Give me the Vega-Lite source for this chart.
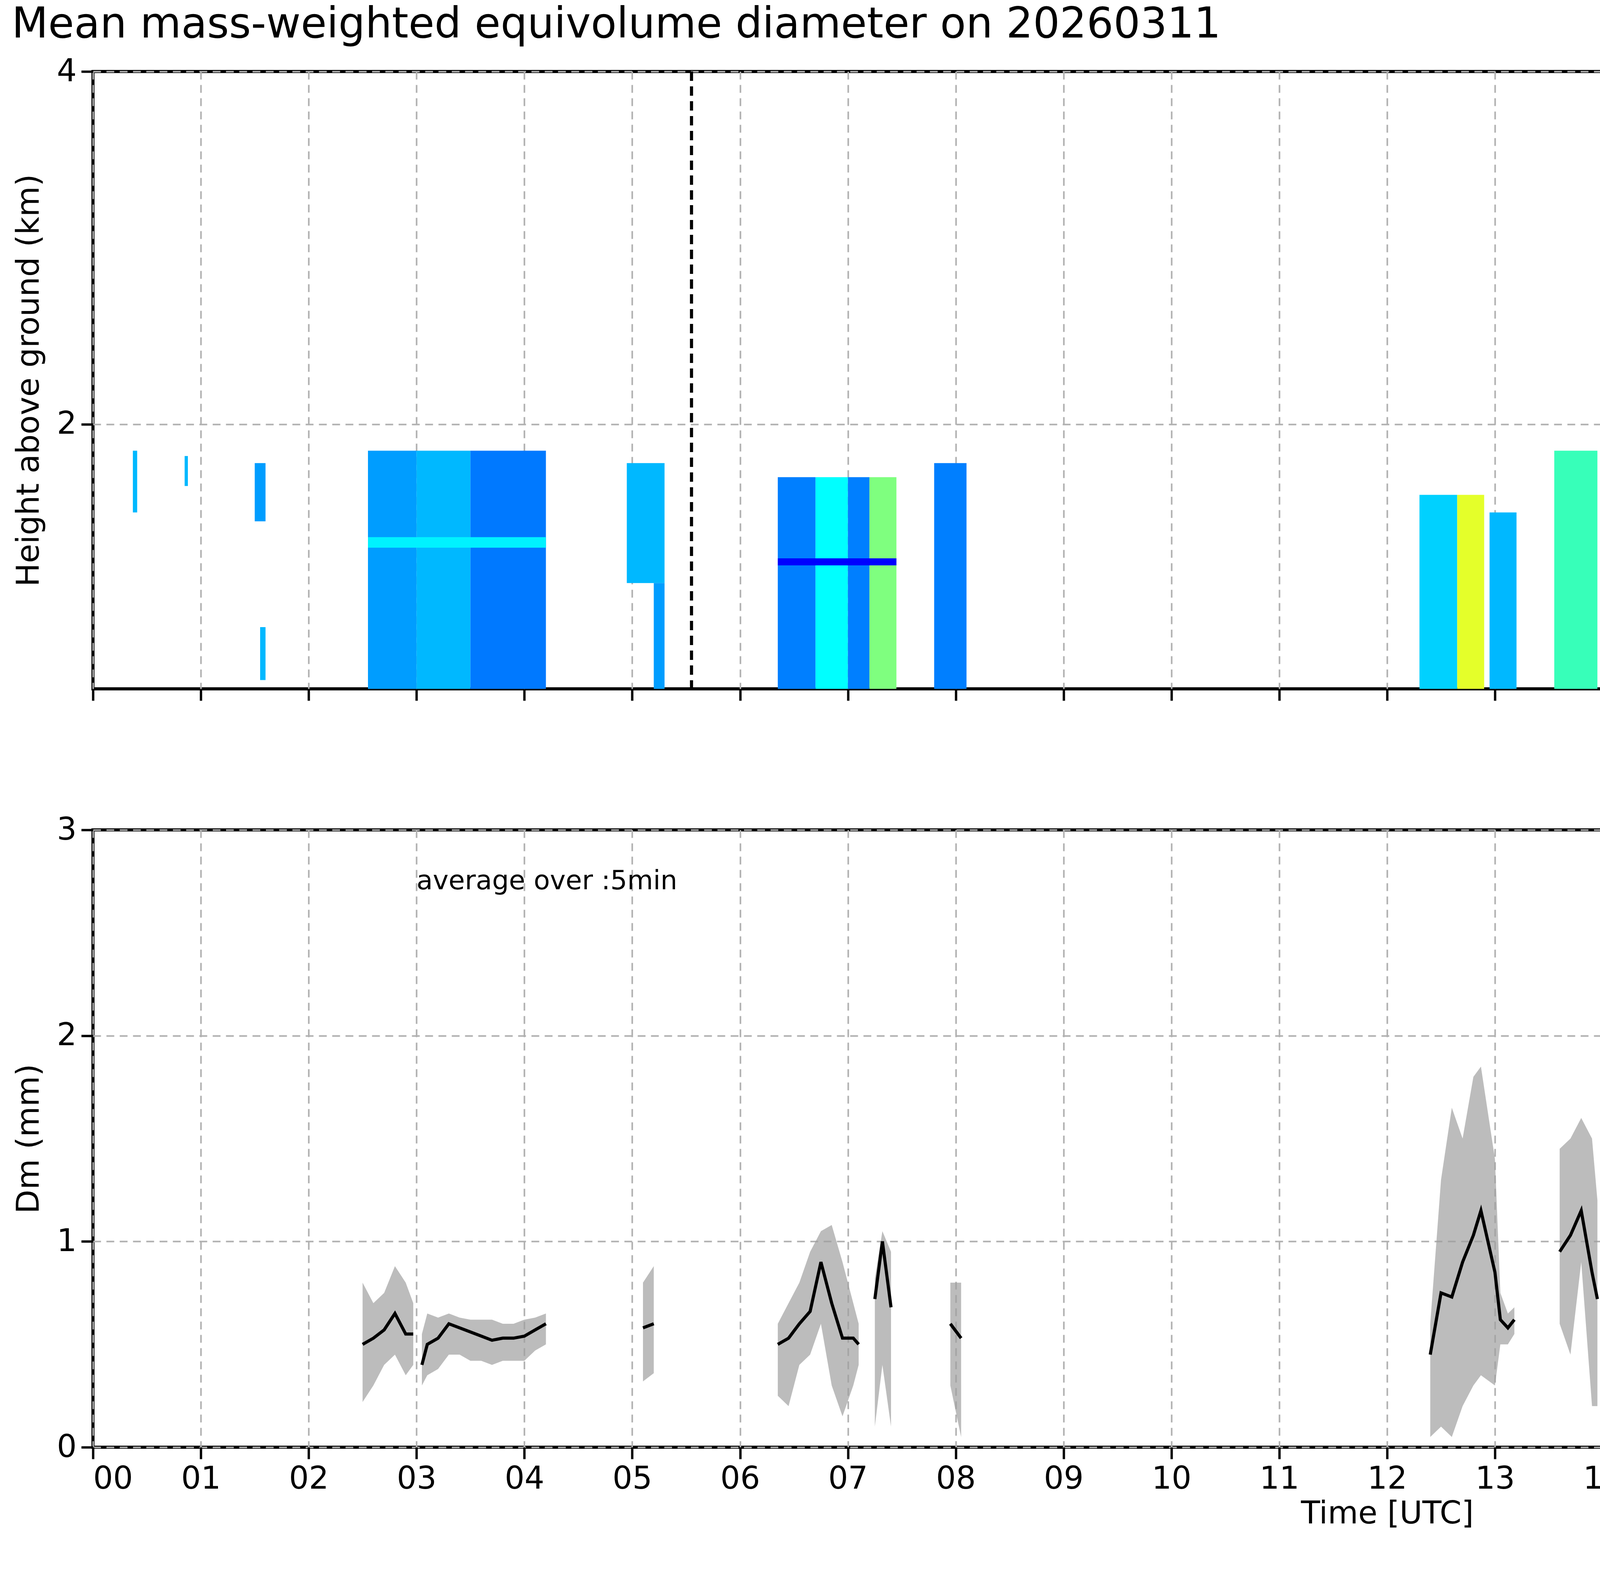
{
  "$schema": "https://vega.github.io/schema/vega-lite/v6.json",
  "background": "white",
  "padding": {"left": 30, "top": 10, "right": 30, "bottom": 10},
  "title": {"text": "Mean mass-weighted equivolume diameter on 20260311", "fontSize": 108, "font": "DejaVu Sans", "fontWeight": "normal", "offset": 20},
  "config": {
    "font": "DejaVu Sans",
    "view": {"stroke": "black", "strokeWidth": 8},
    "axis": {
      "domain": false, "tickColor": "black", "tickWidth": 6, "tickSize": 30,
      "labelFontSize": 80, "titleFontSize": 80, "titleFontWeight": "normal", "labelColor": "black", "titleColor": "black",
      "gridColor": "#b0b0b0", "gridDash": [20, 14], "gridWidth": 4, "labelPadding": 12
    }
  },
  "spacing": 280,
  "vconcat": [
    {
      "width": 6626, "height": 1580,
      "layer": [
        {
          "data": {"values": [
            {"t0": 0.37, "t1": 0.41, "h0": 1.5, "h1": 1.85, "dm": 0.6},
            {"t0": 0.85, "t1": 0.88, "h0": 1.65, "h1": 1.82, "dm": 0.6},
            {"t0": 1.5, "t1": 1.6, "h0": 1.45, "h1": 1.78, "dm": 0.55},
            {"t0": 1.55, "t1": 1.6, "h0": 0.55, "h1": 0.85, "dm": 0.6},
            {"t0": 2.55, "t1": 3.0, "h0": 0.5, "h1": 1.85, "dm": 0.55},
            {"t0": 3.0, "t1": 3.5, "h0": 0.5, "h1": 1.85, "dm": 0.6},
            {"t0": 3.5, "t1": 4.2, "h0": 0.5, "h1": 1.85, "dm": 0.48},
            {"t0": 2.55, "t1": 4.2, "h0": 1.3, "h1": 1.36, "dm": 0.72},
            {"t0": 4.95, "t1": 5.3, "h0": 1.1, "h1": 1.78, "dm": 0.6},
            {"t0": 5.2, "t1": 5.3, "h0": 0.5, "h1": 1.1, "dm": 0.55},
            {"t0": 6.35, "t1": 6.7, "h0": 0.5, "h1": 1.7, "dm": 0.5},
            {"t0": 6.7, "t1": 7.0, "h0": 0.5, "h1": 1.7, "dm": 0.75},
            {"t0": 7.0, "t1": 7.2, "h0": 0.5, "h1": 1.7, "dm": 0.5},
            {"t0": 7.2, "t1": 7.45, "h0": 0.5, "h1": 1.7, "dm": 1.0},
            {"t0": 6.35, "t1": 7.45, "h0": 1.2, "h1": 1.24, "dm": 0.25},
            {"t0": 7.8, "t1": 8.1, "h0": 0.5, "h1": 1.78, "dm": 0.5},
            {"t0": 12.3, "t1": 12.65, "h0": 0.5, "h1": 1.6, "dm": 0.65},
            {"t0": 12.65, "t1": 12.9, "h0": 0.5, "h1": 1.6, "dm": 1.2},
            {"t0": 12.95, "t1": 13.2, "h0": 0.5, "h1": 1.5, "dm": 0.6},
            {"t0": 13.55, "t1": 13.95, "h0": 0.5, "h1": 1.85, "dm": 0.9},
            {"t0": 17.3, "t1": 17.55, "h0": 0.5, "h1": 1.85, "dm": 0.5},
            {"t0": 19.15, "t1": 19.7, "h0": 0.5, "h1": 1.75, "dm": 0.7},
            {"t0": 19.7, "t1": 20.3, "h0": 0.5, "h1": 1.2, "dm": 1.6},
            {"t0": 19.7, "t1": 20.3, "h0": 1.2, "h1": 1.6, "dm": 0.75},
            {"t0": 20.3, "t1": 21.0, "h0": 0.5, "h1": 1.2, "dm": 1.3},
            {"t0": 21.0, "t1": 22.0, "h0": 0.5, "h1": 1.2, "dm": 1.0},
            {"t0": 22.0, "t1": 23.95, "h0": 0.5, "h1": 1.2, "dm": 0.75},
            {"t0": 20.3, "t1": 23.95, "h0": 1.2, "h1": 1.55, "dm": 0.7},
            {"t0": 19.9, "t1": 23.95, "h0": 1.22, "h1": 1.26, "dm": 0.2}
          ]},
          "mark": {"type": "rect"},
          "encoding": {
            "x": {"field": "t0", "type": "quantitative", "scale": {"domain": [0, 24], "nice": false, "zero": false},
                  "axis": {"values": [0,1,2,3,4,5,6,7,8,9,10,11,12,13,14,15,16,17,18,19,20,21,22,23], "labels": false, "title": null}},
            "x2": {"field": "t1"},
            "y": {"field": "h0", "type": "quantitative", "scale": {"domain": [0.5, 4], "nice": false, "zero": false},
                  "axis": {"values": [2, 4], "title": "Height above ground (km)", "titlePadding": 30}},
            "y2": {"field": "h1"},
            "color": {"field": "dm", "type": "quantitative",
              "scale": {"domain": [0, 2], "range": ["#00007f", "#0000ff", "#007fff", "#00ffff", "#7fff7f", "#ffff00", "#ff7f00", "#ff0000", "#7f0000"]},
              "legend": {"title": "Dm (mm)", "titleOrient": "right", "titleFontSize": 64, "titleFontWeight": "normal", "labelFontSize": 64,
                "gradientLength": 1580, "gradientThickness": 110, "values": [0, 0.4, 0.8, 1.2, 1.6, 2.0], "format": ".1f",
                "gradientStrokeColor": "black", "gradientStrokeWidth": 4, "offset": 60, "padding": 0}}
          }
        },
        {
          "data": {"values": [{"t": 5.55}, {"t": 17.22}]},
          "mark": {"type": "rule", "color": "black", "strokeWidth": 8, "strokeDash": [24, 14]},
          "encoding": {"x": {"field": "t", "type": "quantitative"}}
        }
      ]
    },
    {
      "width": 6626, "height": 1580,
      "data": {"values": [
        {"t": 2.5, "dm": 0.5, "lo": 0.22, "hi": 0.8, "seg": "A"},
        {"t": 2.6, "dm": 0.53, "lo": 0.3, "hi": 0.7, "seg": "A"},
        {"t": 2.7, "dm": 0.57, "lo": 0.4, "hi": 0.75, "seg": "A"},
        {"t": 2.8, "dm": 0.65, "lo": 0.45, "hi": 0.88, "seg": "A"},
        {"t": 2.9, "dm": 0.55, "lo": 0.35, "hi": 0.8, "seg": "A"},
        {"t": 2.97, "dm": 0.55, "lo": 0.4, "hi": 0.7, "seg": "A"},
        {"t": 3.05, "dm": 0.4, "lo": 0.3, "hi": 0.55, "seg": "B"},
        {"t": 3.1, "dm": 0.5, "lo": 0.35, "hi": 0.65, "seg": "B"},
        {"t": 3.2, "dm": 0.53, "lo": 0.38, "hi": 0.63, "seg": "B"},
        {"t": 3.3, "dm": 0.6, "lo": 0.45, "hi": 0.65, "seg": "B"},
        {"t": 3.4, "dm": 0.58, "lo": 0.45, "hi": 0.63, "seg": "B"},
        {"t": 3.5, "dm": 0.56, "lo": 0.42, "hi": 0.62, "seg": "B"},
        {"t": 3.6, "dm": 0.54, "lo": 0.42, "hi": 0.62, "seg": "B"},
        {"t": 3.7, "dm": 0.52, "lo": 0.4, "hi": 0.62, "seg": "B"},
        {"t": 3.8, "dm": 0.53, "lo": 0.42, "hi": 0.6, "seg": "B"},
        {"t": 3.9, "dm": 0.53, "lo": 0.42, "hi": 0.6, "seg": "B"},
        {"t": 4.0, "dm": 0.54, "lo": 0.42, "hi": 0.62, "seg": "B"},
        {"t": 4.1, "dm": 0.57, "lo": 0.47, "hi": 0.63, "seg": "B"},
        {"t": 4.2, "dm": 0.6, "lo": 0.5, "hi": 0.65, "seg": "B"},
        {"t": 5.1, "dm": 0.58, "lo": 0.32, "hi": 0.8, "seg": "C"},
        {"t": 5.2, "dm": 0.6, "lo": 0.36, "hi": 0.88, "seg": "C"},
        {"t": 6.35, "dm": 0.5, "lo": 0.25, "hi": 0.6, "seg": "D"},
        {"t": 6.45, "dm": 0.53, "lo": 0.2, "hi": 0.7, "seg": "D"},
        {"t": 6.55, "dm": 0.6, "lo": 0.4, "hi": 0.8, "seg": "D"},
        {"t": 6.65, "dm": 0.66, "lo": 0.45, "hi": 0.95, "seg": "D"},
        {"t": 6.75, "dm": 0.9, "lo": 0.6, "hi": 1.05, "seg": "D"},
        {"t": 6.85, "dm": 0.7, "lo": 0.3, "hi": 1.08, "seg": "D"},
        {"t": 6.95, "dm": 0.53, "lo": 0.15, "hi": 0.9, "seg": "D"},
        {"t": 7.05, "dm": 0.53, "lo": 0.3, "hi": 0.7, "seg": "D"},
        {"t": 7.1, "dm": 0.5, "lo": 0.4, "hi": 0.6, "seg": "D"},
        {"t": 7.25, "dm": 0.72, "lo": 0.1, "hi": 0.82, "seg": "E"},
        {"t": 7.32, "dm": 1.0, "lo": 0.4, "hi": 1.05, "seg": "E"},
        {"t": 7.4, "dm": 0.68, "lo": 0.1, "hi": 0.95, "seg": "E"},
        {"t": 7.95, "dm": 0.6, "lo": 0.3, "hi": 0.8, "seg": "F"},
        {"t": 8.05, "dm": 0.53, "lo": 0.05, "hi": 0.8, "seg": "F"},
        {"t": 12.4, "dm": 0.45, "lo": 0.05, "hi": 0.6, "seg": "G"},
        {"t": 12.5, "dm": 0.75, "lo": 0.1, "hi": 1.3, "seg": "G"},
        {"t": 12.6, "dm": 0.73, "lo": 0.05, "hi": 1.65, "seg": "G"},
        {"t": 12.7, "dm": 0.9, "lo": 0.2, "hi": 1.5, "seg": "G"},
        {"t": 12.8, "dm": 1.03, "lo": 0.3, "hi": 1.8, "seg": "G"},
        {"t": 12.87, "dm": 1.15, "lo": 0.35, "hi": 1.85, "seg": "G"},
        {"t": 13.0, "dm": 0.85, "lo": 0.3, "hi": 1.4, "seg": "G"},
        {"t": 13.05, "dm": 0.62, "lo": 0.5, "hi": 0.75, "seg": "G"},
        {"t": 13.12, "dm": 0.58, "lo": 0.5, "hi": 0.65, "seg": "G"},
        {"t": 13.18, "dm": 0.62, "lo": 0.55, "hi": 0.68, "seg": "G"},
        {"t": 13.6, "dm": 0.95, "lo": 0.6, "hi": 1.45, "seg": "H"},
        {"t": 13.7, "dm": 1.03, "lo": 0.45, "hi": 1.5, "seg": "H"},
        {"t": 13.8, "dm": 1.15, "lo": 0.9, "hi": 1.6, "seg": "H"},
        {"t": 13.9, "dm": 0.85, "lo": 0.2, "hi": 1.5, "seg": "H"},
        {"t": 13.95, "dm": 0.72, "lo": 0.2, "hi": 1.2, "seg": "H"},
        {"t": 17.42, "dm": 0.62, "lo": 0.23, "hi": 1.1, "seg": "I"},
        {"t": 17.52, "dm": 0.53, "lo": 0.3, "hi": 1.05, "seg": "I"},
        {"t": 19.1, "dm": 0.72, "lo": 0.3, "hi": 0.95, "seg": "J"},
        {"t": 19.2, "dm": 0.68, "lo": 0.4, "hi": 1.15, "seg": "J"},
        {"t": 19.35, "dm": 0.72, "lo": 0.4, "hi": 1.3, "seg": "J"},
        {"t": 19.45, "dm": 0.58, "lo": 0.2, "hi": 0.95, "seg": "J"},
        {"t": 19.55, "dm": 0.52, "lo": 0.2, "hi": 0.85, "seg": "J"},
        {"t": 19.65, "dm": 0.62, "lo": 0.2, "hi": 1.1, "seg": "J"},
        {"t": 19.75, "dm": 0.6, "lo": 0.3, "hi": 1.2, "seg": "J"},
        {"t": 19.8, "dm": 1.05, "lo": 0.6, "hi": 1.4, "seg": "J"},
        {"t": 19.9, "dm": 1.2, "lo": 0.8, "hi": 1.8, "seg": "J"},
        {"t": 20.0, "dm": 1.58, "lo": 1.0, "hi": 1.95, "seg": "J"},
        {"t": 20.1, "dm": 1.3, "lo": 0.9, "hi": 1.75, "seg": "J"},
        {"t": 20.2, "dm": 1.35, "lo": 1.0, "hi": 1.65, "seg": "J"},
        {"t": 20.3, "dm": 1.47, "lo": 0.9, "hi": 1.8, "seg": "J"},
        {"t": 20.4, "dm": 1.58, "lo": 1.0, "hi": 1.85, "seg": "J"},
        {"t": 20.5, "dm": 1.55, "lo": 1.3, "hi": 1.8, "seg": "J"},
        {"t": 20.6, "dm": 1.7, "lo": 1.4, "hi": 1.85, "seg": "J"},
        {"t": 20.7, "dm": 1.5, "lo": 1.1, "hi": 1.9, "seg": "J"},
        {"t": 20.8, "dm": 1.42, "lo": 0.85, "hi": 1.9, "seg": "J"},
        {"t": 20.9, "dm": 1.12, "lo": 0.7, "hi": 1.5, "seg": "J"},
        {"t": 21.0, "dm": 1.15, "lo": 0.9, "hi": 1.6, "seg": "J"},
        {"t": 21.05, "dm": 1.3, "lo": 0.8, "hi": 1.6, "seg": "J"},
        {"t": 21.15, "dm": 1.1, "lo": 0.4, "hi": 1.5, "seg": "J"},
        {"t": 21.25, "dm": 0.95, "lo": 0.1, "hi": 1.3, "seg": "J"},
        {"t": 21.35, "dm": 1.1, "lo": 0.7, "hi": 1.4, "seg": "J"},
        {"t": 21.4, "dm": 1.33, "lo": 0.9, "hi": 1.55, "seg": "J"},
        {"t": 21.5, "dm": 0.95, "lo": 0.6, "hi": 1.25, "seg": "J"},
        {"t": 21.6, "dm": 0.7, "lo": 0.3, "hi": 1.1, "seg": "J"},
        {"t": 21.7, "dm": 0.7, "lo": 0.4, "hi": 1.05, "seg": "J"},
        {"t": 21.8, "dm": 1.0, "lo": 0.6, "hi": 1.2, "seg": "J"},
        {"t": 21.9, "dm": 0.95, "lo": 0.6, "hi": 1.1, "seg": "J"},
        {"t": 22.0, "dm": 0.85, "lo": 0.6, "hi": 1.1, "seg": "J"},
        {"t": 22.1, "dm": 1.13, "lo": 0.8, "hi": 1.35, "seg": "J"},
        {"t": 22.2, "dm": 1.05, "lo": 0.8, "hi": 1.2, "seg": "J"},
        {"t": 22.3, "dm": 0.7, "lo": 0.55, "hi": 0.9, "seg": "J"},
        {"t": 22.4, "dm": 0.65, "lo": 0.55, "hi": 0.75, "seg": "J"},
        {"t": 22.5, "dm": 0.55, "lo": 0.5, "hi": 0.7, "seg": "J"},
        {"t": 22.6, "dm": 0.6, "lo": 0.5, "hi": 0.7, "seg": "J"},
        {"t": 22.7, "dm": 0.67, "lo": 0.55, "hi": 0.8, "seg": "J"},
        {"t": 22.8, "dm": 0.65, "lo": 0.55, "hi": 0.75, "seg": "J"},
        {"t": 22.9, "dm": 0.72, "lo": 0.6, "hi": 0.85, "seg": "J"},
        {"t": 23.0, "dm": 0.72, "lo": 0.65, "hi": 0.85, "seg": "J"},
        {"t": 23.1, "dm": 0.85, "lo": 0.7, "hi": 0.95, "seg": "J"},
        {"t": 23.2, "dm": 0.9, "lo": 0.7, "hi": 0.95, "seg": "J"},
        {"t": 23.3, "dm": 0.65, "lo": 0.4, "hi": 0.8, "seg": "J"},
        {"t": 23.4, "dm": 0.6, "lo": 0.4, "hi": 0.75, "seg": "J"},
        {"t": 23.5, "dm": 0.58, "lo": 0.25, "hi": 0.8, "seg": "J"},
        {"t": 23.6, "dm": 0.65, "lo": 0.3, "hi": 0.8, "seg": "J"},
        {"t": 23.7, "dm": 0.62, "lo": 0.25, "hi": 0.85, "seg": "J"},
        {"t": 23.8, "dm": 0.62, "lo": 0.3, "hi": 0.9, "seg": "J"},
        {"t": 23.9, "dm": 0.65, "lo": 0.05, "hi": 1.26, "seg": "J"},
        {"t": 23.95, "dm": 0.87, "lo": 0.1, "hi": 1.27, "seg": "J"}
      ]},
      "layer": [
        {
          "mark": {"type": "area", "color": "#a0a0a0", "opacity": 0.7},
          "encoding": {
            "x": {"field": "t", "type": "quantitative", "scale": {"domain": [0, 24], "nice": false, "zero": false},
                  "axis": {"values": [0,1,2,3,4,5,6,7,8,9,10,11,12,13,14,15,16,17,18,19,20,21,22,23], "title": "Time [UTC]", "titlePadding": 10,
                           "labelExpr": "datum.value < 10 ? '0' + datum.value : '' + datum.value"}},
            "y": {"field": "lo", "type": "quantitative", "scale": {"domain": [0, 3], "nice": false},
                  "axis": {"values": [0, 1, 2, 3], "format": "d", "title": "Dm (mm)", "titlePadding": 30}},
            "y2": {"field": "hi"},
            "detail": {"field": "seg"}
          }
        },
        {
          "mark": {"type": "line", "color": "black", "strokeWidth": 8},
          "encoding": {
            "x": {"field": "t", "type": "quantitative"},
            "y": {"field": "dm", "type": "quantitative"},
            "detail": {"field": "seg"}
          }
        },
        {
          "data": {"values": [{"t": 3.0, "y": 2.75, "label": "average over :5min"}]},
          "mark": {"type": "text", "align": "left", "baseline": "middle", "fontSize": 68, "color": "black"},
          "encoding": {
            "x": {"field": "t", "type": "quantitative"},
            "y": {"field": "y", "type": "quantitative"},
            "text": {"field": "label"}
          }
        }
      ]
    }
  ]
}
